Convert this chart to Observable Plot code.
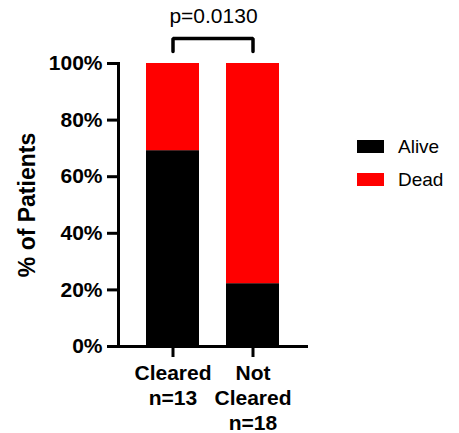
<!DOCTYPE html>
<html><head><meta charset="utf-8">
<script src="https://cdn.jsdelivr.net/npm/d3@7"></script>
<script src="https://cdn.jsdelivr.net/npm/@observablehq/plot@0.6"></script>
<style>
body{margin:0;background:#fff;}
#wrap{position:relative;width:459px;height:433px;font-family:"Liberation Sans",Arial,sans-serif;}
#legend{position:absolute;left:357px;top:130px;}
.item{display:flex;align-items:center;height:33px;font-size:19px;color:#000;}
.sw{width:27px;height:13px;margin-right:14px;}
</style></head>
<body>
<div id="wrap"></div>
<script>
const groups = ["Cleared", "Not Cleared"];
const groupLabels = ["Cleared\nn=13", "Not\nCleared\nn=18"];
const outcomes = ["Alive", "Dead"];
const alivePct = [69.2, 22.2];
const deadPct = [30.8, 77.8];
const colors = ["#000000", "#ff0000"];
const pLabel = "p=0.0130";
const yTicks = [0, 20, 40, 60, 80, 100];
const yLabel = "% of Patients";

const rows = [];
groups.forEach((g, i) => {
  rows.push({group: g, outcome: outcomes[0], pct: alivePct[i]});
  rows.push({group: g, outcome: outcomes[1], pct: deadPct[i]});
});
const yMax = 100;
const bracket = [
  {g: groups[0], v: yMax + 4.2},
  {g: groups[0], v: yMax + 8.8},
  {g: groups[1], v: yMax + 8.8},
  {g: groups[1], v: yMax + 4.2}
];

const font = "Liberation Sans, Arial, sans-serif";
const chart = Plot.plot({
  width: 459,
  height: 433,
  marginLeft: 118,
  marginRight: 151,
  marginTop: 63,
  marginBottom: 87,
  style: {fontFamily: font, color: "#000", background: "#fff"},
  x: {domain: groups, paddingInner: 0.333, paddingOuter: 0.34, align: 0.5},
  y: {domain: [0, yMax]},
  color: {domain: outcomes, range: colors},
  marks: [
    Plot.barY(rows, {x: "group", y: "pct", fill: "outcome"}),
    Plot.ruleY([0], {strokeWidth: 3, insetLeft: -11}),
    Plot.frame({anchor: "left", strokeWidth: 3}),
    Plot.axisY({ticks: yTicks, tickFormat: d => d + "%", tickSize: 11, tickPadding: 5,
      fontSize: 21, fontWeight: "bold", strokeWidth: 3, label: null}),
    Plot.axisX({tickSize: 11, tickPadding: 5, tickFormat: d => groupLabels[groups.indexOf(d)],
      fontSize: 21, fontWeight: "bold", lineHeight: 1.19, strokeWidth: 3, label: null}),
    Plot.line(bracket, {x: "g", y: "v", strokeWidth: 3.5, stroke: "#000", strokeLinejoin: "miter"}),
    Plot.text([pLabel], {text: d => d, frameAnchor: "top", lineAnchor: "middle", dy: -47.5, fontSize: 21}),
    Plot.text([yLabel], {text: d => d, frameAnchor: "left", textAnchor: "middle", lineAnchor: "middle",
      rotate: -90, dx: -91, fontSize: 23, fontWeight: "bold"})
  ]
});
const wrap = document.getElementById("wrap");
wrap.appendChild(chart);
const leg = document.createElement("div");
leg.id = "legend";
outcomes.forEach((o, i) => {
  const it = document.createElement("div");
  it.className = "item";
  const sw = document.createElement("div");
  sw.className = "sw";
  sw.style.background = colors[i];
  const t = document.createElement("span");
  t.textContent = o;
  it.appendChild(sw); it.appendChild(t);
  leg.appendChild(it);
});
wrap.appendChild(leg);
</script>
</body></html>
